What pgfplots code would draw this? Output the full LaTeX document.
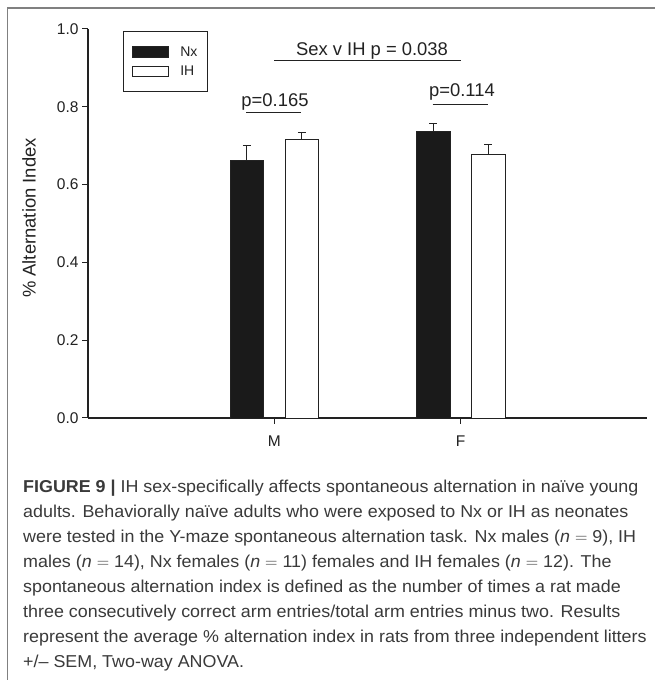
\documentclass[border=0pt]{standalone}
\usepackage{fontspec}
\setmainfont{Liberation Sans}
\newfontfamily\capfont{Liberation Sans}[FakeStretch=1.04]
\usepackage{pgfplots}
\pgfplotsset{compat=1.18}
\definecolor{ink}{HTML}{222222}
\definecolor{barblack}{HTML}{1A1A1A}
\definecolor{captxt}{HTML}{3A3A3A}
\definecolor{framec}{HTML}{808080}

\pgfplotstableread{
x y e
1 0.662 0.039
2 0.737 0.020
}\nxdata
\pgfplotstableread{
x y e
1 0.715 0.020
2 0.677 0.026
}\ihdata

\begin{document}
\begin{tikzpicture}[x=1bp,y=1bp]
\useasboundingbox (0,0) rectangle (655,680);
\fill[white] (0,0) rectangle (655,680);
\draw[framec, line width=1.5bp] (7.3,0) -- (7.3,672) -- (655,672);
\begin{axis}[
  at={(88bp,262bp)}, anchor=south west, scale only axis,
  width=559bp, height=389bp,
  xmin=0, xmax=3, ymin=0, ymax=1,
  ybar, bar width=33.5bp,
  axis lines=left,
  axis line style={ink, line width=1.2bp, -},
  ytick={0,0.2,0.4,0.6,0.8,1.0},
  yticklabel style={/pgf/number format/.cd, fixed, fixed zerofill, precision=1},
  /pgf/number format/assume math mode=true,
  xtick={1,2}, xticklabels={M,F},
  tick align=outside, major tick length=6bp,
  tick style={ink, line width=1bp},
  ticklabel style={font=\fontsize{15.5bp}{18bp}\selectfont, text=ink},
  xticklabel style={yshift=-8bp},
  ylabel={\% Alternation Index},
  every axis y label/.style={at={(axis description cs:-0.1055,0.514)}, rotate=90, anchor=center, font=\fontsize{18.4bp}{20bp}\selectfont, text=ink},
  legend style={at={(0.0626,0.995)}, anchor=north west, draw=ink, line width=1bp,
    inner xsep=8bp, inner ysep=13bp, row sep=4bp,
    font=\fontsize{14bp}{16bp}\selectfont, text=ink},
  legend cell align=left,
  clip=false,
]
\addplot[bar shift=-27.5bp, fill=barblack, draw=ink, line width=0.8bp,
  legend image code/.code={\draw[fill=barblack, draw=ink, line width=0.8bp] (0bp,-5.5bp) rectangle (36bp,5.5bp);},
  error bars/.cd, y dir=plus, y explicit,
  error bar style={ink, line width=1bp},
  error mark options={ink, rotate=90, mark size=3.9bp, line width=1bp}]
  table[x=x, y=y, y error=e] {\nxdata};
\addlegendentry{\hspace{10bp}Nx\hspace{12bp}}
\addplot[bar shift=27.5bp, fill=white, draw=ink, line width=0.8bp,
  legend image code/.code={\draw[fill=white, draw=ink, line width=0.8bp] (0bp,-5bp) rectangle (36bp,5bp);},
  error bars/.cd, y dir=plus, y explicit,
  error bar style={ink, line width=1bp},
  error mark options={ink, rotate=90, mark size=3.9bp, line width=1bp}]
  table[x=x, y=y, y error=e] {\ihdata};
\addlegendentry{\hspace{10bp}IH}
\draw[ink, line width=1bp] (axis cs:1,0.9185) -- (axis cs:2,0.9185);
\node[anchor=base, font=\fontsize{18.4bp}{20bp}\selectfont, text=ink, inner sep=0pt] at (axis cs:1.524,0.933) {Sex v IH p = 0.038};
\draw[ink, line width=1bp] (axis cs:0.848,0.785) -- (axis cs:1.1415,0.785);
\node[anchor=base, font=\fontsize{18.4bp}{20bp}\selectfont, text=ink, inner sep=0pt] at (axis cs:1.0036,0.802) {p=0.165};
\draw[ink, line width=1bp] (axis cs:1.850,0.8065) -- (axis cs:2.148,0.8065);
\node[anchor=base, font=\fontsize{18.4bp}{20bp}\selectfont, text=ink, inner sep=0pt] at (axis cs:2.007,0.826) {p=0.114};
\end{axis}
\begin{scope}[every node/.style={anchor=base west, inner sep=0pt, text=captxt, font=\capfont\fontsize{17.2bp}{20bp}\selectfont}]
\node at (23,187) {\textbf{FIGURE 9 |} IH sex-specifically affects spontaneous alternation in naïve young};
\node at (23,162) {adults. Behaviorally naïve adults who were exposed to Nx or IH as neonates};
\node at (23,137) {were tested in the Y-maze spontaneous alternation task. Nx males (\textit{n} $=$ 9), IH};
\node at (23,112) {males (\textit{n} $=$ 14), Nx females (\textit{n} $=$ 11) females and IH females (\textit{n} $=$ 12). The};
\node at (23,87) {spontaneous alternation index is defined as the number of times a rat made};
\node at (23,62) {three consecutively correct arm entries/total arm entries minus two. Results};
\node at (23,37) {represent the average \% alternation index in rats from three independent litters};
\node at (23,12) {+/– SEM, Two-way ANOVA.};
\end{scope}
\end{tikzpicture}
\end{document}
